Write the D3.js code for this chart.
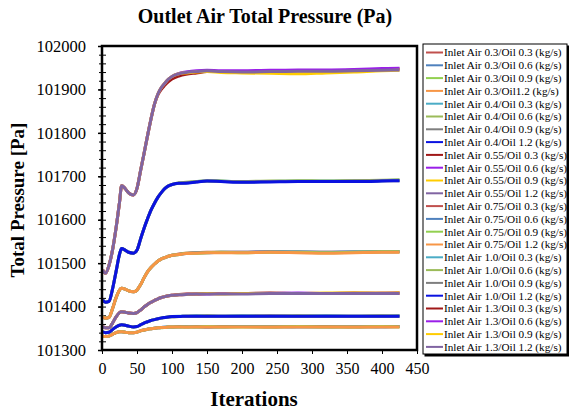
<!DOCTYPE html>
<html>
<head>
<meta charset="utf-8">
<script src="https://cdn.jsdelivr.net/npm/d3@7"></script>
<style>
  body { margin: 0; background: #fff; }
  svg text { font-family: "Liberation Serif", "Times New Roman", serif; fill: #000; }
  .axis path, .axis line { stroke: #000; }
</style>
</head>
<body>
<div id="chart"></div>
<script>
// iterations
var iters = [1,5,10,15,20,25,28,33,38,45,50,55,60,65,70,75,80,85,90,95,100,110,120,135,150,170,200,240,280,320,360,400,425];

// Inlet air 0.3
var a03o03 = [101332,101331,101332,101336,101340,101342,101342,101341,101340,101340,101341,101344,101346,101348,101349,101350,101351,101352,101352,101353,101353,101354,101353,101354,101353,101354,101354,101353,101354,101354,101353,101354,101354];
var a03o06 = [101332,101331,101332,101336,101340,101342,101342,101341,101340,101340,101341,101344,101346,101348,101349,101350,101351,101352,101353,101353,101353,101353,101354,101353,101353,101353,101354,101354,101353,101353,101354,101353,101354];
var a03o09 = [101332,101331,101332,101336,101340,101342,101342,101341,101340,101340,101341,101344,101346,101348,101349,101350,101351,101351,101352,101353,101353,101353,101353,101353,101354,101353,101353,101353,101354,101353,101353,101354,101353];
var a03o12 = [101332,101331,101332,101336,101340,101342,101342,101341,101340,101340,101341,101344,101346,101348,101349,101350,101351,101352,101352,101353,101353,101353,101353,101353,101353,101353,101353,101353,101353,101353,101353,101353,101353];
// Inlet air 0.4
var a04o03 = [101342,101340,101341,101347,101353,101357,101358,101357,101355,101353,101354,101358,101362,101365,101368,101370,101372,101374,101375,101376,101377,101378,101378,101379,101378,101378,101379,101378,101378,101379,101378,101378,101379];
var a04o06 = [101342,101340,101341,101347,101353,101357,101358,101357,101355,101353,101354,101358,101362,101365,101368,101370,101372,101374,101375,101376,101377,101377,101378,101378,101379,101378,101378,101378,101379,101378,101378,101379,101378];
var a04o09 = [101342,101340,101341,101347,101353,101357,101358,101357,101355,101353,101354,101358,101362,101365,101368,101370,101372,101373,101375,101376,101376,101377,101378,101378,101378,101378,101378,101379,101378,101378,101378,101378,101378];
var a04o12 = [101342,101340,101341,101347,101353,101357,101358,101357,101355,101353,101354,101358,101362,101365,101368,101370,101372,101374,101375,101376,101377,101377,101378,101378,101378,101378,101378,101378,101378,101378,101378,101378,101378];
// Inlet air 0.55
var a055o03 = [101354,101351,101351,101362,101376,101386,101388,101387,101385,101384,101386,101392,101399,101405,101410,101414,101418,101421,101423,101425,101426,101428,101429,101429,101430,101430,101430,101431,101430,101430,101431,101430,101431];
var a055o06 = [101354,101351,101351,101362,101376,101386,101388,101387,101385,101384,101386,101392,101399,101405,101410,101414,101418,101421,101423,101425,101426,101427,101428,101429,101429,101430,101430,101430,101431,101430,101430,101431,101431];
var a055o09 = [101354,101351,101351,101362,101376,101386,101388,101387,101385,101384,101386,101392,101399,101405,101410,101414,101418,101421,101423,101425,101426,101427,101428,101429,101430,101429,101430,101430,101430,101431,101431,101431,101432];
var a055o12 = [101354,101351,101351,101362,101376,101386,101388,101387,101385,101384,101386,101392,101399,101405,101410,101414,101418,101421,101423,101425,101426,101427,101428,101429,101429,101429,101429,101430,101430,101430,101430,101430,101430];
// Inlet air 0.75
var a075o03 = [101377,101373,101375,101395,101420,101438,101442,101440,101436,101434,101438,101450,101466,101480,101490,101498,101505,101510,101513,101516,101518,101521,101523,101524,101525,101525,101525,101526,101525,101525,101525,101526,101526];
var a075o06 = [101377,101373,101375,101395,101420,101438,101442,101440,101436,101434,101438,101450,101466,101480,101490,101498,101505,101510,101513,101516,101518,101520,101522,101524,101524,101525,101525,101526,101526,101525,101526,101526,101527];
var a075o09 = [101377,101373,101375,101395,101420,101438,101442,101440,101436,101434,101438,101450,101466,101480,101490,101498,101505,101510,101513,101516,101518,101520,101523,101523,101524,101525,101524,101525,101525,101524,101525,101526,101526];
var a075o12 = [101377,101373,101375,101395,101420,101438,101442,101440,101436,101434,101438,101450,101466,101480,101490,101498,101505,101510,101513,101516,101518,101520,101522,101523,101524,101524,101524,101525,101524,101523,101524,101525,101525];
// Inlet air 1.0
var a10o03 = [101415,101410,101412,101440,101480,101520,101534,101530,101525,101523,101530,101555,101580,101602,101622,101638,101652,101663,101672,101678,101681,101684,101685,101688,101689,101689,101687,101688,101689,101689,101689,101690,101691];
var a10o06 = [101415,101410,101412,101440,101480,101520,101534,101530,101525,101523,101530,101555,101580,101602,101622,101638,101652,101663,101672,101678,101681,101685,101686,101688,101690,101689,101688,101689,101690,101689,101690,101691,101692];
var a10o09 = [101415,101410,101412,101440,101480,101520,101534,101530,101525,101523,101530,101555,101580,101602,101622,101638,101652,101663,101672,101678,101681,101684,101685,101687,101689,101688,101687,101688,101688,101688,101689,101690,101690];
var a10o12 = [101415,101410,101412,101440,101480,101520,101534,101530,101525,101523,101530,101555,101580,101602,101622,101638,101652,101663,101672,101678,101681,101684,101684,101687,101689,101688,101686,101687,101688,101688,101688,101689,101690];
// Inlet air 1.3
var a13o03 = [101484,101477,101495,101530,101580,101640,101678,101672,101662,101657,101672,101712,101752,101793,101832,101866,101888,101901,101910,101918,101924,101931,101935,101938,101941,101941,101941,101942,101943,101943,101944,101946,101947];
var a13o06 = [101484,101477,101495,101530,101580,101640,101678,101672,101662,101657,101672,101712,101752,101793,101832,101866,101890,101905,101915,101924,101930,101937,101940,101943,101944,101943,101943,101944,101945,101945,101946,101948,101949];
var a13o09 = [101484,101477,101495,101530,101580,101640,101678,101672,101662,101657,101672,101712,101752,101793,101832,101866,101890,101905,101915,101924,101930,101936,101938,101940,101941,101939,101938,101937,101936,101938,101940,101943,101944];
var a13o12 = [101484,101477,101495,101530,101580,101640,101678,101672,101662,101657,101672,101712,101752,101793,101832,101866,101890,101905,101915,101924,101930,101936,101939,101941,101943,101941,101940,101941,101942,101942,101943,101944,101945];

var seriesNames = [
    "Inlet Air 0.3/Oil 0.3 (kg/s)", "Inlet Air 0.3/Oil 0.6 (kg/s)", "Inlet Air 0.3/Oil 0.9 (kg/s)", "Inlet Air 0.3/Oil1.2 (kg/s)",
    "Inlet Air 0.4/Oil 0.3 (kg/s)", "Inlet Air 0.4/Oil 0.6 (kg/s)", "Inlet Air 0.4/Oil 0.9 (kg/s)", "Inlet Air 0.4/Oil 1.2 (kg/s)",
    "Inlet Air 0.55/Oil 0.3 (kg/s)", "Inlet Air 0.55/Oil 0.6 (kg/s)", "Inlet Air 0.55/Oil 0.9 (kg/s)", "Inlet Air 0.55/Oil 1.2 (kg/s)",
    "Inlet Air 0.75/Oil 0.3 (kg/s)", "Inlet Air 0.75/Oil 0.6 (kg/s)", "Inlet Air 0.75/Oil 0.9 (kg/s)", "Inlet Air 0.75/Oil 1.2 (kg/s)",
    "Inlet Air 1.0/Oil 0.3 (kg/s)", "Inlet Air 1.0/Oil 0.6 (kg/s)", "Inlet Air 1.0/Oil 0.9 (kg/s)", "Inlet Air 1.0/Oil 1.2 (kg/s)",
    "Inlet Air 1.3/Oil 0.3 (kg/s)", "Inlet Air 1.3/Oil 0.6 (kg/s)", "Inlet Air 1.3/Oil 0.9 (kg/s)", "Inlet Air 1.3/Oil 1.2 (kg/s)"
];
var seriesValues = [a03o03, a03o06, a03o09, a03o12, a04o03, a04o06, a04o09, a04o12,
    a055o03, a055o06, a055o09, a055o12, a075o03, a075o06, a075o09, a075o12,
    a10o03, a10o06, a10o09, a10o12, a13o03, a13o06, a13o09, a13o12];
var yTicks = [101300, 101400, 101500, 101600, 101700, 101800, 101900, 102000];
var xTicks = [0, 50, 100, 150, 200, 250, 300, 350, 400, 450];

// colours repeat every 12 series
var palette = ["#C0504D", "#4F81BD", "#92D050", "#F79646", "#4BACC6", "#9BBB59",
    "#7F7F7F", "#0A12E0", "#A01818", "#9A1FE8", "#FFCC00", "#8064A2"];

var serif = '"Liberation Serif", "Times New Roman", serif';
var svgWidth = 569;
var svgHeight = 412;
var plot = { left: 102, top: 46, right: 417, bottom: 350 };

var svg = d3.select("#chart")
    .append("svg")
    .attr("width", svgWidth)
    .attr("height", svgHeight);

var x = d3.scaleLinear().domain([0, 450]).range([plot.left, plot.right]);
var y = d3.scaleLinear().domain([101300, 102000]).range([plot.bottom, plot.top]);

// title
svg.append("text")
    .attr("x", 265).attr("y", 23)
    .attr("text-anchor", "middle")
    .style("font-size", "20px").style("font-weight", "bold")
    .text("Outlet Air Total Pressure (Pa)");

// y axis, major + minor ticks on both sides of the frame
var minor = d3.range(101300, 102001, 20);
svg.append("g").attr("class", "axis")
    .attr("transform", `translate(${plot.left},0)`)
    .call(d3.axisLeft(y).tickValues(minor).tickSize(3).tickFormat(""))
    .call(g => g.select(".domain").remove());
svg.append("g").attr("class", "axis")
    .attr("transform", `translate(${plot.left},0)`)
    .call(d3.axisRight(y).tickValues(minor).tickSize(4).tickFormat(""))
    .call(g => g.select(".domain").remove());
svg.append("g").attr("class", "axis")
    .attr("transform", `translate(${plot.left},0)`)
    .attr("font-family", serif)
    .call(d3.axisLeft(y).tickValues(yTicks).tickSize(4).tickPadding(12).tickFormat(d3.format("d")))
    .attr("font-family", serif)
    .call(g => g.select(".domain").remove())
    .call(g => g.selectAll("line").attr("stroke-width", 1.5))
    .call(g => g.selectAll("text").style("font-family", serif).style("font-size", "16.5px"));

// x axis
svg.append("g").attr("class", "axis")
    .attr("transform", `translate(0,${plot.bottom})`)
    .call(d3.axisBottom(x).tickValues(xTicks).tickSize(4).tickPadding(9))
    .attr("font-family", serif)
    .call(g => g.select(".domain").remove())
    .call(g => g.selectAll("line").attr("stroke", "#bbb"))
    .call(g => g.selectAll("text").style("font-family", serif).style("font-size", "16px"));

svg.append("text")
    .attr("x", 254).attr("y", 406)
    .attr("text-anchor", "middle")
    .style("font-size", "21px").style("font-weight", "bold")
    .text("Iterations");

svg.append("text")
    .attr("transform", "translate(24,200) rotate(-90)")
    .attr("text-anchor", "middle")
    .style("font-size", "19px").style("font-weight", "bold")
    .text("Total Pressure [Pa]");

// lines
var line = d3.line()
    .x((d, i) => x(iters[i]))
    .y(d => y(d))
    .curve(d3.curveMonotoneX);

svg.append("g")
    .selectAll("path")
    .data(seriesValues)
    .enter()
    .append("path")
    .attr("d", line)
    .attr("fill", "none")
    .attr("stroke", (d, i) => palette[i % 12])
    .attr("stroke-width", 3)
    .attr("stroke-linejoin", "round");

// frame
svg.append("rect")
    .attr("x", plot.left).attr("y", plot.top)
    .attr("width", plot.right - plot.left)
    .attr("height", plot.bottom - plot.top)
    .attr("fill", "none")
    .attr("stroke", "#000")
    .attr("stroke-width", 2.5);

// legend
var lg = svg.append("g").attr("transform", "translate(423,44)");
lg.append("rect")
    .attr("x", 1.5).attr("y", 1.5).attr("width", 145).attr("height", 311)
    .attr("fill", "#000");
lg.append("rect")
    .attr("width", 144).attr("height", 310)
    .attr("fill", "#fff").attr("stroke", "#000").attr("stroke-width", 1);

var rows = lg.selectAll(".row")
    .data(seriesNames)
    .enter()
    .append("g")
    .attr("class", "row")
    .attr("transform", (d, i) => `translate(0,${8.5 + i * 12.8})`);
rows.append("line")
    .attr("x1", 3).attr("x2", 20)
    .attr("stroke", (d, i) => palette[i % 12])
    .attr("stroke-width", 2);
rows.append("text")
    .attr("x", 21).attr("dy", "0.35em")
    .style("font-size", "11.2px")
    .text(d => d);
</script>
</body>
</html>
